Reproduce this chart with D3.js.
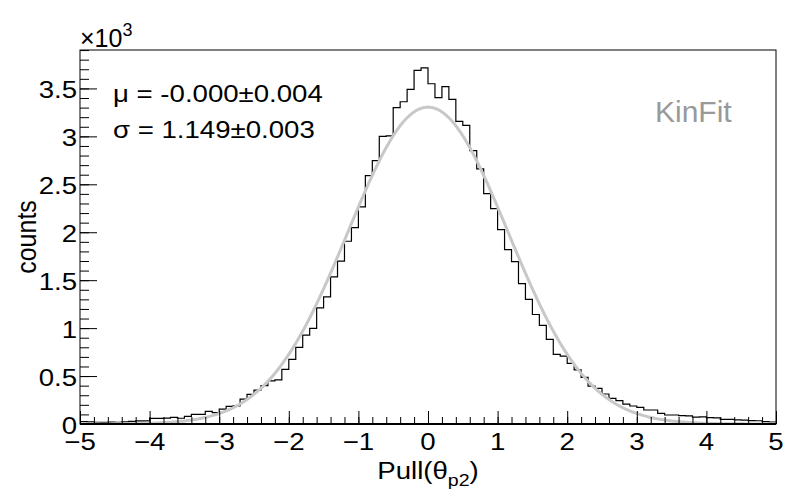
<!DOCTYPE html>
<html><head><meta charset="utf-8">
<script src="https://cdn.jsdelivr.net/npm/d3@7"></script>
<style>
body{margin:0;background:#fff}
svg{display:block}
text{font-family:"Liberation Sans",Arial,Helvetica,sans-serif;fill:#000}
</style>
</head><body>
<svg id="c" width="800" height="500"></svg>
<script>
// ---- data ----
const binLow = -5, binHigh = 5;
const counts = [
  25, 22, 18, 17, 20, 18, 22, 28, 32, 33,
  58, 58, 62, 69, 60, 80, 101, 101, 132, 118,
  156, 184, 190, 260, 309, 354, 400, 450, 460, 570,
  674, 799, 927, 997, 1212, 1326, 1535, 1698, 1906, 2049,
  2264, 2590, 2747, 3000, 3005, 3299, 3361, 3490, 3688, 3715,
  3549, 3403, 3518, 3385, 3156, 3115, 2851, 2660, 2403, 2247,
  2028, 1819, 1694, 1465, 1299, 1142, 1028, 882, 726, 708,
  632, 565, 486, 396, 372, 313, 267, 243, 208, 188,
  174, 146, 146, 111, 94, 94, 87, 85, 72, 74,
  66, 64, 49, 48, 42, 41, 35, 34, 24, 21
];
const xTicks = [-5, -4, -3, -2, -1, 0, 1, 2, 3, 4, 5];
const xTickLabels = ["\u22125", "\u22124", "\u22123", "\u22122", "\u22121", "0", "1", "2", "3", "4", "5"];
const yTicks = [0, 500, 1000, 1500, 2000, 2500, 3000, 3500];
const yTickLabels = ["0", "0.5", "1", "1.5", "2", "2.5", "3", "3.5"];
const fitMean = -0.000, fitSigma = 1.149, fitAmp = 3305;
const statLines = ["\u03bc = -0.000\u00b10.004", "\u03c3 = 1.149\u00b10.003"];
const tagText = "KinFit";

// ---- layout ----
const W = 800, H = 500;
const L = 80, R = 776, T = 50, B = 424;
const SX = 1.15;
const svg = d3.select("#c");
svg.append("rect").attr("width", W).attr("height", H).attr("fill", "#fff");

const nb = counts.length;
const bw = (binHigh - binLow) / nb;
const yMax = 1.05 * d3.max(counts);
const x = d3.scaleLinear().domain([binLow, binHigh]).range([L, R]);
const y = d3.scaleLinear().domain([0, yMax]).range([B, T]);

svg.append("clipPath").attr("id", "clip").append("rect")
  .attr("x", L).attr("y", T).attr("width", R - L).attr("height", B - T);

// histogram outline
const pts = counts.map((c, i) => [binLow + i * bw, c]);
pts.push([binHigh, counts[nb - 1]]);
const stepLine = d3.line().x(d => x(d[0])).y(d => y(d[1])).curve(d3.curveStepAfter);
svg.append("path").attr("d", stepLine(pts))
  .attr("fill", "none").attr("stroke", "#000").attr("stroke-width", 1.2)
  .attr("clip-path", "url(#clip)");

// fit curve
const fx = d3.range(0, 401).map(i => binLow + i * (binHigh - binLow) / 400);
const fit = fx.map(v => [v, fitAmp * Math.exp(-0.5 * Math.pow((v - fitMean) / fitSigma, 2))]);
svg.append("path").attr("d", d3.line().x(d => x(d[0])).y(d => y(d[1]))(fit))
  .attr("fill", "none").attr("stroke", "#c8c8c8").attr("stroke-width", 3)
  .attr("clip-path", "url(#clip)");

// frame
svg.append("rect").attr("x", L).attr("y", T).attr("width", R - L).attr("height", B - T)
  .attr("fill", "none").attr("stroke", "#000").attr("stroke-width", 1);

// axes ticks
const xMinor = d3.range(binLow, binHigh + 1e-9, 0.2).map(v => +v.toFixed(2));
const yMinor = d3.range(0, yMax, 100);
const gx = svg.append("g").attr("transform", `translate(0,${B})`);
gx.call(d3.axisBottom(x).tickValues(xMinor).tickSize(-7).tickFormat(""));
gx.append("g").call(d3.axisBottom(x).tickValues(xTicks).tickSize(-13).tickFormat(""));
gx.selectAll(".domain").remove();
gx.selectAll("line").attr("stroke", "#000");
svg.append("line").attr("x1", L).attr("x2", R).attr("y1", B).attr("y2", B)
  .attr("stroke", "#000").attr("stroke-width", 2);

const gy = svg.append("g").attr("transform", `translate(${L},0)`);
gy.call(d3.axisLeft(y).tickValues(yMinor).tickSize(-9).tickFormat(""));
gy.append("g").call(d3.axisLeft(y).tickValues(yTicks).tickSize(-17).tickFormat(""));
gy.selectAll(".domain").remove();
gy.selectAll("line").attr("stroke", "#000");

function label(px, py, txt, size, anchor, sx) {
  return svg.append("text")
    .attr("transform", `translate(${px},${py}) scale(${sx},1)`)
    .attr("text-anchor", anchor).style("font-size", size + "px").text(txt);
}

// tick labels
xTicks.forEach((v, i) => label(x(v), 450, xTickLabels[i], 24, "middle", SX));
yTicks.forEach((v, i) => label(L - 3, y(v) + 9.5, yTickLabels[i], 24, "end", SX));

// exponent
const ex = svg.append("text").attr("transform", `translate(${L},47)`).style("font-size", "25px");
ex.append("tspan").text("\u00d710");
ex.append("tspan").attr("dy", -11).style("font-size", "18px").text("3");

// axis titles
const xt = svg.append("text").attr("transform", `translate(${x(0)},479) scale(${SX},1)`)
  .attr("text-anchor", "middle").style("font-size", "24px");
xt.append("tspan").text("Pull(\u03b8");
xt.append("tspan").attr("dy", 7).style("font-size", "17px").text("p2");
xt.append("tspan").attr("dy", -7).text(")");

svg.append("text").attr("transform", `translate(36,${(T + B) / 2}) scale(1.1,1) rotate(-90)`)
  .attr("text-anchor", "middle").style("font-size", "25px").text("counts");

// stats
label(113, 102, statLines[0], 24, "start", SX);
label(113, 138, statLines[1], 24, "start", SX);

// tag
svg.append("text").attr("x", 655).attr("y", 122).style("font-size", "30px")
  .style("fill", "#999").text(tagText);
</script>
</body></html>
